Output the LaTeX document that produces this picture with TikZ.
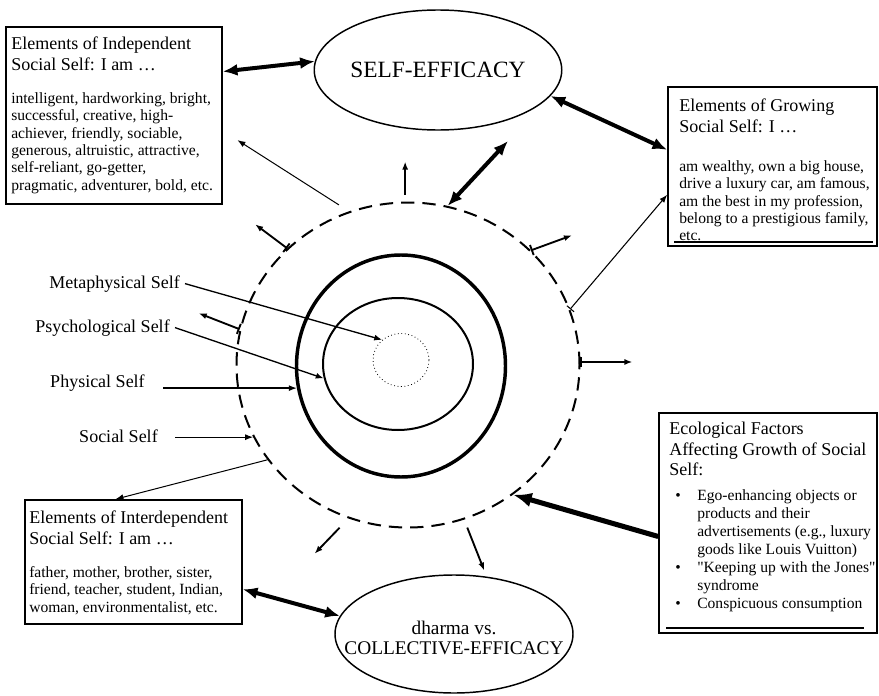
\documentclass[tikz,border=0pt]{standalone}
\usepackage{fontspec}
\setmainfont{Liberation Serif}
\newfontfamily\straightq{Liberation Serif}[Ligatures=ResetAll]
\usetikzlibrary{arrows.meta,shapes.geometric,fit,calc}
\begin{document}
\begin{tikzpicture}[x=0.75pt,y=-0.75pt,
  frame/.style={draw, line width=1.2pt, inner sep=0pt},
  ring/.style={draw, ellipse, inner sep=0pt},
  oval/.style={draw, ellipse, line width=1.1pt, inner sep=0pt, align=center},
  headtxt/.style={anchor=north west, inner sep=0pt, align=left, font=\fontsize{13.5}{15.2}\selectfont},
  bodytxt/.style={anchor=north west, inner sep=0pt, align=left, font=\fontsize{11.7}{13.1}\selectfont},
  lbl/.style={anchor=base east, inner xsep=3.75pt, inner ysep=0pt, font=\fontsize{13.5}{15}\selectfont},
  ptr/.style={-{Latex[length=6pt,width=4.5pt]}, line width=1pt},
  thinptr/.style={-{Latex[length=6pt,width=4.5pt]}, line width=0.75pt},
  thinbar/.style={{Bar[width=7pt]}-{Latex[length=6pt,width=4.5pt]}, line width=0.8pt},
  outptr/.style={{Bar[width=8pt]}-{Latex[length=6pt,width=4.5pt]}, line width=1.4pt},
  plainout/.style={-{Latex[length=6pt,width=4.5pt]}, line width=1.4pt},
  bigdouble/.style={{Latex[length=11pt,width=9pt]}-{Latex[length=11pt,width=9pt]}, line width=3pt},
  bigptr/.style={-{Latex[length=14pt,width=11pt]}, line width=3.8pt},
  rule/.style={line width=1.1pt},
]
\useasboundingbox (0,0) rectangle (879,696);

% concentric layers of the self
\node[ring, dash pattern=on 10pt off 6pt, line width=1.5pt, minimum width=257.25pt, minimum height=243.75pt] (socialring) at (408,365) {};
\node[ring, line width=2.6pt, minimum width=156.75pt, minimum height=166.5pt] (physring) at (401,366) {};
\node[ring, line width=1.5pt, minimum width=112.5pt, minimum height=99pt] (psychring) at (398,364) {};
\node[ring, dotted, line width=0.6pt, minimum width=42pt, minimum height=39.75pt] (metaring) at (401,360) {};

% efficacy ovals
\node[oval, minimum width=172.5pt, minimum height=90pt, font=\fontsize{17.5}{20}\selectfont] (selfeff) at (438,70) {SELF-EFFICACY};
\node[oval, minimum width=178.5pt, minimum height=88.5pt] (collect) at (454,634) {};
\node[align=center, inner sep=0pt, font=\fontsize{14.5}{14.5}\selectfont] (collectlbl) at (454,638) {dharma vs.\\COLLECTIVE-EFFICACY};

% text boxes
\node[frame, fit={(6,27) (222,204)}] (indep) {};
\node[frame, fit={(668,87) (877,246)}] (grow) {};
\node[frame, fit={(25,500) (242,624)}] (interdep) {};
\node[frame, fit={(659,413) (877,633)}] (eco) {};

\node[headtxt] (indephead) at (11,37) {Elements of Independent\\Social Self: I am …};
\node[bodytxt] (indepbody) at (11,92) {intelligent, hardworking, bright,\\successful, creative, high-\\achiever, friendly, sociable,\\generous, altruistic, attractive,\\self-reliant, go-getter,\\pragmatic, adventurer, bold, etc.};

\node[headtxt] (growhead) at (679,99) {Elements of Growing\\Social Self: I …};
\node[bodytxt] (growbody) at (679,160) {am wealthy, own a big house,\\drive a luxury car, am famous,\\am the best in my profession,\\belong to a prestigious family,\\etc.};
\draw[rule] ($(grow.south west)+(7,-5)$) -- ($(grow.south east)+(-5,-5)$);

\node[headtxt] (interhead) at (29,511) {Elements of Interdependent\\Social Self: I am …};
\node[bodytxt] (interbody) at (29,566) {father, mother, brother, sister,\\friend, teacher, student, Indian,\\woman, environmentalist, etc.};

\node[headtxt] (ecohead) at (669,422) {Ecological Factors\\Affecting Growth of Social\\Self:};
\node[anchor=north west, inner sep=0pt, font=\fontsize{11.7}{13.5}\selectfont] (ecobody) at (675,488) {%
  \begin{tabular}{@{}p{16.5pt}@{}l@{}}
  • & Ego-enhancing objects or\\
    & products and their\\
    & advertisements (e.g., luxury\\
    & goods like Louis Vuitton)\\
  • & {\straightq"}Keeping up with the Jones{\straightq"}\\
    & syndrome\\
  • & Conspicuous consumption
  \end{tabular}};
\draw[rule] ($(eco.south west)+(8,-6)$) -- ($(eco.south east)+(-14,-6)$);

% layer labels
\node[lbl] (metalbl) at (185,288) {Metaphysical Self};
\node[lbl] (psychlbl) at (175,332) {Psychological Self};
\node[lbl] (physlbl) at (150,387) {Physical Self};
\node[lbl] (sociallbl) at (163,442) {Social Self};

\draw[ptr] (metalbl.east) -- (metaring.133);
\draw[ptr] (psychlbl.east) -- (psychring.191.6);
\draw[ptr] ($(physlbl.east |- physring.192.1)+(13,0)$) -- (physring.192.1);
\draw[ptr] ($(sociallbl.east |- socialring.205.85)+(12,0)$) -- (socialring.205.85);

% efficacy links
\coordinate (effgap) at (508,141);
\draw[bigdouble] (indep.22.8) -- (selfeff.176.5);
\draw[bigdouble] (selfeff.-13) -- (grow.171.1);
\draw[bigdouble] (socialring.76.4) -- (effgap);
\draw[bigdouble] (interdep.-14.1) -- (collect.171.4);
\draw[bigptr] (eco.187.3) -- (socialring.-51);

% links from the social self to its elements
\draw[thinptr, shorten <=9pt, shorten >=13pt] (socialring.111.7) -- (indep.-8.3);
\draw[thinbar] (socialring.19.8) -- (grow.195.1);
\draw[thinptr] (socialring.214.9) -- (interdep.106.6);

% outward growth arrows
\draw[outptr] (socialring.136.2) -- ++(-32,-24);
\draw[outptr] (socialring.168.9) -- ++(-41,-16);
\draw[outptr] (socialring.43.6) -- ++(41,-15);
\draw[outptr] (socialring.1.7) -- ++(52,0);
\draw[plainout] ($(socialring.91.7)+(0,-7)$) -- ++(0,-33);
\draw[plainout] ($(socialring.247.8)+(-4,11)$) -- ++(-25,26);
\draw[plainout] ($(socialring.-70.3)+(3,8)$) -- ++(17,43);
\end{tikzpicture}
\end{document}
